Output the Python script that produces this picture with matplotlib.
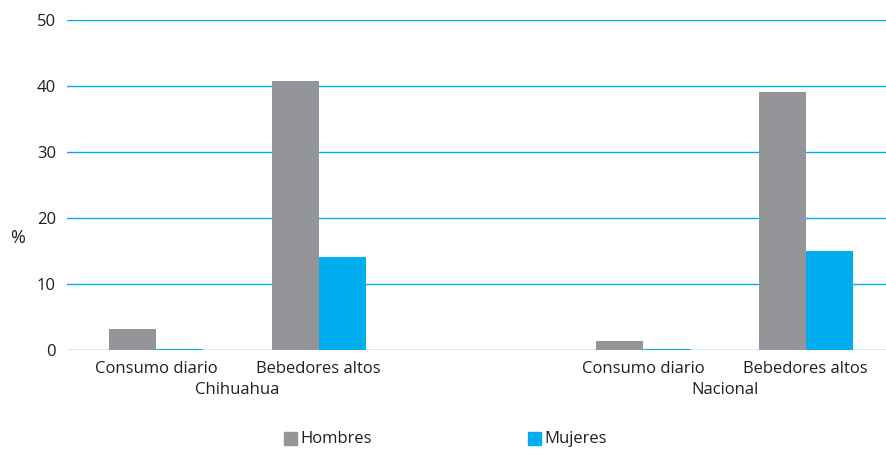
import matplotlib
matplotlib.use('Agg')
import matplotlib.pyplot as plt
import numpy as np

plt.rcParams['font.family'] = ['Open Sans', 'DejaVu Sans']

categories = ['Consumo diario', 'Bebedores altos', '', 'Consumo diario', 'Bebedores altos']
groups = ['Chihuahua', 'Nacional']
hombres = [3.2, 40.8, np.nan, 1.4, 39.1]
mujeres = [0.1, 14.1, np.nan, 0.2, 15.0]
series_names = ['Hombres', 'Mujeres']
yticks = [0, 10, 20, 30, 40, 50]

color_h = '#939598'
color_m = '#00aeef'
text_color = '#231f20'
fs = 12

fig = plt.figure(figsize=(8.87, 4.5), dpi=100)
ax = fig.add_axes([67 / 887, 1 - 350 / 450, 1 - 67 / 887, 330 / 450])

x = np.arange(len(categories))
w = 0.29
ax.bar(x - w / 2, hombres, width=w, color=color_h, label=series_names[0], zorder=3)
ax.bar(x + w / 2, mujeres, width=w, color=color_m, label=series_names[1], zorder=3)

ax.set_xlim(-0.55, 4.5)
ax.set_ylim(0, 50)
ax.set_yticks(yticks)
ax.yaxis.grid(True, color=color_m, linewidth=1)
ax.set_axisbelow(True)
for s in ax.spines.values():
    s.set_visible(False)
ax.tick_params(axis='both', length=0, labelsize=fs, colors=text_color)
ax.tick_params(axis='y', pad=8)
ax.set_xticks([0, 1, 3, 4])
ax.set_xticklabels([categories[i] for i in [0, 1, 3, 4]])
ax.tick_params(axis='x', pad=8)

# group labels
for gx, g in zip([0.5, 3.5], groups):
    ax.text(gx, -0.098, g, transform=ax.get_xaxis_transform(), ha='center', va='top',
            fontsize=fs, color=text_color)

fig.text(10 / 887, 1 - 238 / 450, '%', fontsize=13, color=text_color, va='center', ha='left')

# legend
for lx, name, c in [(284, series_names[0], color_h), (528, series_names[1], color_m)]:
    fig.patches.append(plt.Rectangle((lx / 887, 1 - 445 / 450), 13 / 887, 13 / 450,
                                     transform=fig.transFigure, color=c))
    fig.text((lx + 16) / 887, 1 - 439 / 450, name, fontsize=fs, color=text_color,
             va='center', ha='left')

fig.savefig('out.png', dpi=100)
